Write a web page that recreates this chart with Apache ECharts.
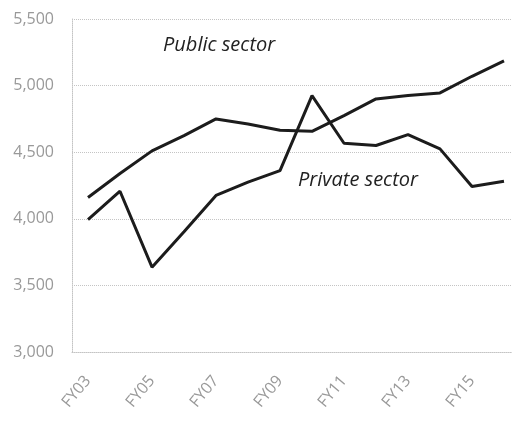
<!DOCTYPE html>
<html>
<head>
<meta charset="utf-8">
<script src="https://cdn.jsdelivr.net/npm/echarts@6/dist/echarts.min.js"></script>
<style>
  html, body { margin: 0; padding: 0; background: #fff; }
  #chart { width: 512px; height: 422px; }
</style>
</head>
<body>
<div id="chart"></div>
<script>
// 财年
const categories = ['FY03', 'FY04', 'FY05', 'FY06', 'FY07', 'FY08', 'FY09', 'FY10',
  'FY11', 'FY12', 'FY13', 'FY14', 'FY15', 'FY16'];
const publicSector = [4160, 4340, 4510, 4625, 4750, 4712, 4665, 4657,
  4775, 4900, 4925, 4945, 5070, 5185];
const privateSector = [3993, 4207, 3637, 3902, 4175, 4275, 4362, 4925,
  4567, 4550, 4632, 4525, 4242, 4282];
const yMin = 3000;
const yMax = 5500;
const yStep = 500;

const gridColor = '#c4c4c4';
const labelColor = '#999';
const lineColor = '#1c1c1c';

const myChart = echarts.init(document.getElementById('chart'));
const option = {
  animation: false,
  grid: {
    left: 72,
    top: 19,
    width: 448,
    height: 333,
    containLabel: false,
    outerBoundsMode: 'none',
  },
  xAxis: {
    type: 'category',
    data: categories,
    boundaryGap: true,
    axisLine: {
      lineStyle: { color: gridColor, type: 'dotted' },
    },
    axisTick: {
      interval: 1,
      length: 5,
      lineStyle: { color: gridColor },
    },
    axisLabel: {
      interval: 1,
      rotate: 50,
      color: labelColor,
      fontFamily: 'Open Sans',
      fontSize: 16,
      margin: 26,
    },
  },
  yAxis: {
    type: 'value',
    min: yMin,
    max: yMax,
    interval: yStep,
    axisLine: {
      show: true,
      lineStyle: { color: gridColor, type: 'dotted' },
    },
    axisTick: { show: false },
    axisLabel: {
      color: labelColor,
      fontFamily: 'Open Sans',
      fontSize: 16,
      margin: 18,
      formatter: (v) => v.toLocaleString('en-US'),
    },
    splitLine: {
      lineStyle: { color: gridColor, type: 'dotted' },
    },
  },
  series: [
    {
      name: 'Public sector',
      type: 'line',
      data: publicSector,
      symbol: 'none',
      lineStyle: { color: lineColor, width: 3 },
    },
    {
      name: 'Private sector',
      type: 'line',
      data: privateSector,
      symbol: 'none',
      lineStyle: { color: lineColor, width: 3 },
    },
  ],
  // 系列名称标注
  graphic: [
    {
      type: 'text',
      left: 163,
      top: 35,
      style: {
        text: 'Public sector',
        fill: '#222',
        font: 'italic 20px "Open Sans"',
      },
    },
    {
      type: 'text',
      left: 298,
      top: 170,
      style: {
        text: 'Private sector',
        fill: '#222',
        font: 'italic 20px "Open Sans"',
      },
    },
  ],
};
myChart.setOption(option);
</script>
</body>
</html>
